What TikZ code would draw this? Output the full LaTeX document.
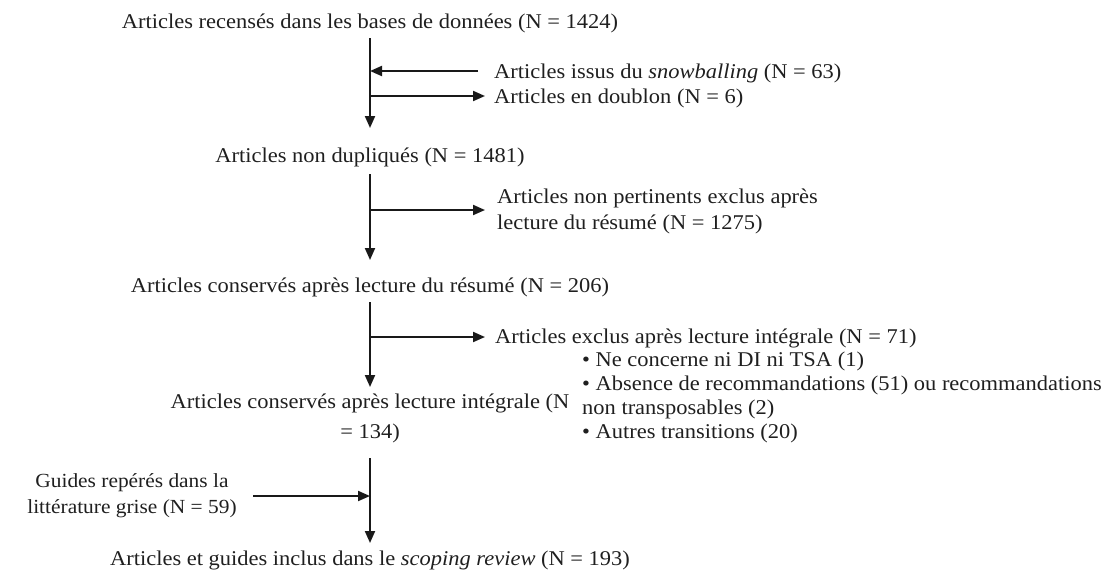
\documentclass[tikz,border=0pt]{standalone}
\usepackage{fontspec}
\setmainfont[FakeStretch=1.07]{Liberation Serif}
\usetikzlibrary{arrows.meta}
\begin{document}
\begin{tikzpicture}[x=1pt,y=-1pt,
  lbl/.style={inner sep=0pt,text=black!88,font=\fontsize{21}{26}\selectfont},
  flow/.style={line width=2pt,black!90,-{Triangle[length=12pt,width=10pt]}}]
\useasboundingbox (0,0) rectangle (1105,579);

% main column of counts (multi-line nodes are placed by their last baseline)
\node[lbl,anchor=base] (t1) at (370,28) {Articles recensés dans les bases de données (N = 1424)};
\node[lbl,anchor=base] (nd) at (370,162) {Articles non dupliqués (N = 1481)};
\node[lbl,anchor=base] (cr) at (370,292) {Articles conservés après lecture du résumé (N = 206)};
\node[lbl,anchor=base,align=center] (ci) at (370,438) {Articles conservés après lecture intégrale (N\\[4pt]= 134)};
\node[lbl,anchor=base] (fin) at (370,565) {Articles et guides inclus dans le \textit{scoping review} (N = 193)};

% side entries
\node[lbl,anchor=base west] (snow) at (494,78) {Articles issus du \textit{snowballing} (N = 63)};
\node[lbl,anchor=base west] (doub) at (494,103) {Articles en doublon (N = 6)};
\node[lbl,anchor=base west,align=left] (np) at (497,229) {Articles non pertinents exclus après\\lecture du résumé (N = 1275)};
\node[lbl,anchor=base west] (ex) at (495,343) {Articles exclus après lecture intégrale (N = 71)};
\node[lbl,anchor=base west,align=left,font=\fontsize{21}{24}\selectfont] (bl) at (582,438)
  {\textbullet{} Ne concerne ni DI ni TSA (1)\\
   \textbullet{} Absence de recommandations (51) ou recommandations\\
   non transposables (2)\\
   \textbullet{} Autres transitions (20)};
\node[lbl,anchor=base,align=center,font=\fontsize{20}{26}\selectfont] (gr) at (132,513) {Guides repérés dans la\\littérature grise (N = 59)};

% trunk segments
\coordinate (a1) at (370,38);  \coordinate (a2) at (370,128);
\coordinate (b1) at (370,174); \coordinate (b2) at (370,260);
\coordinate (c1) at (370,302); \coordinate (c2) at (370,387);
\coordinate (d1) at (370,458); \coordinate (d2) at (370,543);
\draw[flow] (a1) -- (a2);
\draw[flow] (b1) -- (b2);
\draw[flow] (c1) -- (c2);
\draw[flow] (d1) -- (d2);

% branches
\coordinate (sn) at (478,71);
\draw[flow] (sn) -- (sn -| a1);
\coordinate (db) at (370,96);
\draw[flow] (db) -- ([xshift=-9pt]doub.west |- db);
\coordinate (npj) at (370,210);
\draw[flow] (npj) -- ([xshift=-12pt]np.west |- npj);
\coordinate (exj) at (370,337);
\draw[flow] (exj) -- ([xshift=-10pt]ex.west |- exj);
\coordinate (grs) at (253,496);
\draw[flow] (grs) -- (grs -| d1);
\end{tikzpicture}
\end{document}
